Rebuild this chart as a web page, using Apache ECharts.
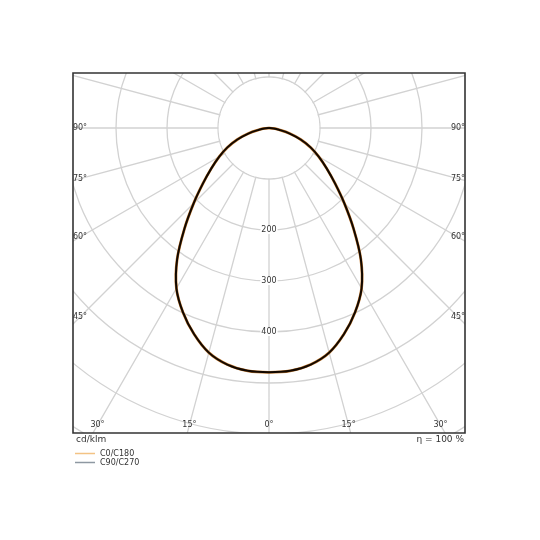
<!DOCTYPE html>
<html>
<head>
<meta charset="utf-8">
<script src="https://cdn.jsdelivr.net/npm/echarts@6/dist/echarts.min.js"></script>
<style>
  html, body { margin: 0; padding: 0; background: #fff; }
  #chart { width: 540px; height: 540px; }
</style>
</head>
<body>
<div id="chart"></div>
<script>
// gamma angles (deg from nadir) and intensity in cd/klm
var gammaAngles = [0, 5, 10, 15, 20, 25, 30, 35, 40, 45, 50, 55, 60, 65, 70, 75, 80, 85, 90];
var c0c180 = [479, 478, 471, 456, 430, 399, 363, 314, 258, 209, 169, 138, 113, 90, 66, 42, 20, 9, 0];
var c90c270 = [479, 478, 471, 456, 430, 399, 363, 314, 258, 209, 169, 138, 113, 90, 66, 42, 20, 9, 0];
var seriesNames = ['C0/C180', 'C90/C270'];
var radiusLabels = [200, 300, 400];
var gammaLabels = [90, 75, 60, 45, 30, 15, 0];

// layout of the frame and the polar grid
var box = { x0: 73, y0: 73, x1: 465, y1: 433 };
var cx = 269, cy = 128;
var rOuter = 408;          // pixel radius for 800 cd/klm
var rHole = 50.3;          // rays start at the 100 cd/klm ring
var font = 'DejaVu Sans';

// both halves of a C-plane; gamma 0 lies at the bottom of the diagram
function planeData(values) {
  var out = [];
  for (var i = gammaAngles.length - 1; i > 0; i--) {
    out.push([values[i], 360 - gammaAngles[i]]);
  }
  out.push([values[0], 0]);
  for (var j = 1; j < gammaAngles.length; j++) {
    out.push([values[j], gammaAngles[j]]);
  }
  return out;
}

// one smooth path through all points of the plane, placed by the polar axes
function curveRenderer(data, color, width) {
  return function(params, api) {
    if (params.dataIndex !== 0) {
      return null;
    }
    var pts = data.map(function(d) { return api.coord(d); });
    var path = 'M' + pts[0][0] + ',' + pts[0][1];
    for (var i = 0; i < pts.length - 1; i++) {
      var p0 = pts[i - 1] || pts[i];
      var p1 = pts[i];
      var p2 = pts[i + 1];
      var p3 = pts[i + 2] || p2;
      var c1x = p1[0] + (p2[0] - p0[0]) / 6, c1y = p1[1] + (p2[1] - p0[1]) / 6;
      var c2x = p2[0] - (p3[0] - p1[0]) / 6, c2y = p2[1] - (p3[1] - p1[1]) / 6;
      path += 'C' + c1x + ',' + c1y + ' ' + c2x + ',' + c2y + ' ' + p2[0] + ',' + p2[1];
    }
    return {
      type: 'path',
      shape: { pathData: path },
      style: { fill: 'none', stroke: color, lineWidth: width, lineJoin: 'round' }
    };
  };
}

// gamma labels sit on their ray just inside the frame
function gammaLabelItems() {
  var items = [];
  var insetX = 7, insetY = 8;
  gammaLabels.forEach(function(g) {
    var sides = g === 0 ? [1] : [-1, 1];
    sides.forEach(function(s) {
      var rad = g * Math.PI / 180;
      var sx = Math.sin(rad), sy = Math.cos(rad);
      var tSide = sx > 1e-6 ? (box.x1 - cx - insetX) / sx : Infinity;
      var tBottom = sy > 1e-6 ? (box.y1 - cy - insetY) / sy : Infinity;
      var t = Math.min(tSide, tBottom);
      items.push({
        type: 'text',
        z: 30,
        x: cx + s * t * sx,
        y: cy + t * sy,
        style: {
          text: g + '°',
          font: '8px "' + font + '"',
          fill: '#333',
          align: 'center',
          verticalAlign: 'middle'
        }
      });
    });
  });
  return items;
}

var gridColor = '#d2d2d2';

var masks = [
  [0, 0, 540, box.y0],
  [0, box.y1, 540, 540 - box.y1],
  [0, box.y0, box.x0, box.y1 - box.y0],
  [box.x1, box.y0, 540 - box.x1, box.y1 - box.y0]
].map(function(r) {
  return {
    type: 'rect', z: 10, silent: true,
    shape: { x: r[0], y: r[1], width: r[2], height: r[3] },
    style: { fill: '#fff' }
  };
});

var graphics = [{
  // blank out the rays inside the 100 cd/klm ring
  type: 'circle', z: 5, silent: true,
  shape: { cx: cx, cy: cy, r: rHole },
  style: { fill: '#fff' }
}].concat(masks).concat([
  {
    type: 'rect', z: 30, silent: true,
    shape: { x: box.x0, y: box.y0, width: box.x1 - box.x0, height: box.y1 - box.y0 },
    style: { fill: null, stroke: '#333', lineWidth: 1.6 }
  },
  {
    type: 'text', z: 30, x: 76, y: 440,
    style: { text: 'cd/klm', font: '9px "' + font + '"', fill: '#333', align: 'left', verticalAlign: 'middle' }
  },
  {
    type: 'text', z: 30, x: 464, y: 440,
    style: { text: 'η = 100 %', font: '9px "' + font + '"', fill: '#333', align: 'right', verticalAlign: 'middle' }
  }
]).concat(gammaLabelItems());

var dataC0 = planeData(c0c180);
var dataC90 = planeData(c90c270);

var chart = echarts.init(document.getElementById('chart'));

chart.setOption({
  animation: false,
  backgroundColor: '#fff',
  textStyle: { fontFamily: font },
  polar: {
    center: [cx, cy],
    radius: [0, rOuter]
  },
  angleAxis: {
    type: 'value',
    min: 0,
    max: 360,
    interval: 15,
    startAngle: 270,
    clockwise: true,
    axisLine: { show: false },
    axisTick: { show: false },
    axisLabel: { show: false },
    splitLine: { show: true, lineStyle: { color: gridColor, width: 1.3 } }
  },
  radiusAxis: {
    type: 'value',
    min: 0,
    max: 800,
    interval: 100,
    axisLine: { show: false },
    axisTick: { show: false },
    axisLabel: {
      show: true,
      margin: 0,
      align: 'center',
      verticalAlign: 'middle',
      fontSize: 8,
      color: '#333',
      backgroundColor: '#fff',
      padding: [0, 1],
      formatter: function(v) {
        return radiusLabels.indexOf(v) >= 0 ? String(v) : '';
      }
    },
    splitLine: { show: true, lineStyle: { color: gridColor, width: 1.3 } },
    z: 1
  },
  legend: {
    left: 75,
    top: 449,
    padding: 0,
    orient: 'vertical',
    itemWidth: 20,
    itemHeight: 1.5,
    itemGap: 0,
    z: 40,
    textStyle: { fontSize: 8, color: '#333', lineHeight: 9 },
    data: [
      { name: seriesNames[0], icon: 'rect', itemStyle: { color: '#f3c384' } },
      { name: seriesNames[1], icon: 'rect', itemStyle: { color: '#8e98a2' } }
    ]
  },
  graphic: graphics,
  series: [
    {
      name: seriesNames[0],
      type: 'custom',
      coordinateSystem: 'polar',
      data: dataC0,
      z: 20,
      itemStyle: { color: '#c27a30' },
      renderItem: curveRenderer(dataC0, '#c27a30', 2.8)
    },
    {
      name: seriesNames[1],
      type: 'custom',
      coordinateSystem: 'polar',
      data: dataC90,
      z: 21,
      itemStyle: { color: '#120800' },
      renderItem: curveRenderer(dataC90, '#120800', 2)
    }
  ]
});
</script>
</body>
</html>
